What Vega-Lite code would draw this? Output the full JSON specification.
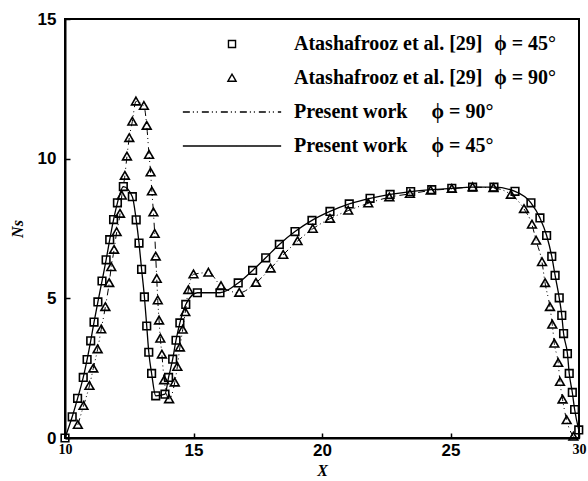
{
  "$schema": "https://vega.github.io/schema/vega-lite/v6.json",
  "width": 514,
  "height": 419,
  "autosize": {"type": "none"},
  "padding": {"left": 65, "top": 19, "right": 9, "bottom": 43},
  "background": "white",
  "config": {
    "view": {"stroke": "black", "strokeWidth": 2},
    "axis": {
      "grid": false,
      "domainColor": "black",
      "domainWidth": 2,
      "tickColor": "black",
      "tickWidth": 1.5,
      "tickSize": -5,
      "labelColor": "black",
      "labelFontWeight": "bold",
      "titleColor": "black",
      "titleFont": "Liberation Serif",
      "titleFontStyle": "italic",
      "titleFontWeight": "bold",
      "titleFontSize": 16
    },
    "legend": {
      "symbolStrokeColor": "black",
      "symbolStrokeWidth": 1.4,
      "labelFont": "Liberation Serif",
      "labelFontSize": 20,
      "labelFontWeight": "bold",
      "labelColor": "black",
      "labelLimit": 500,
      "padding": 0
    }
  },
  "data": {
    "values": [
      {"series": "a45", "x": 10.0, "y": 0.0},
      {"series": "a45", "x": 10.28, "y": 0.76},
      {"series": "a45", "x": 10.49, "y": 1.42},
      {"series": "a45", "x": 10.71, "y": 2.17},
      {"series": "a45", "x": 10.86, "y": 2.81},
      {"series": "a45", "x": 11.0, "y": 3.48},
      {"series": "a45", "x": 11.13, "y": 4.15},
      {"series": "a45", "x": 11.28, "y": 4.87},
      {"series": "a45", "x": 11.44, "y": 5.62},
      {"series": "a45", "x": 11.6, "y": 6.38},
      {"series": "a45", "x": 11.74, "y": 7.1},
      {"series": "a45", "x": 11.89, "y": 7.82},
      {"series": "a45", "x": 12.04, "y": 8.42},
      {"series": "a45", "x": 12.27, "y": 9.0},
      {"series": "a45", "x": 12.62, "y": 8.64},
      {"series": "a45", "x": 12.77, "y": 7.81},
      {"series": "a45", "x": 12.88, "y": 6.98},
      {"series": "a45", "x": 12.98, "y": 6.04},
      {"series": "a45", "x": 13.09, "y": 5.05},
      {"series": "a45", "x": 13.18, "y": 4.01},
      {"series": "a45", "x": 13.26, "y": 3.07},
      {"series": "a45", "x": 13.37, "y": 2.31},
      {"series": "a45", "x": 13.53, "y": 1.51},
      {"series": "a45", "x": 13.89, "y": 1.57},
      {"series": "a45", "x": 14.03, "y": 2.17},
      {"series": "a45", "x": 14.19, "y": 2.82},
      {"series": "a45", "x": 14.32, "y": 3.5},
      {"series": "a45", "x": 14.47, "y": 4.12},
      {"series": "a45", "x": 14.7, "y": 4.78},
      {"series": "a45", "x": 15.15, "y": 5.2},
      {"series": "a45", "x": 16.03, "y": 5.2},
      {"series": "a45", "x": 16.74, "y": 5.55},
      {"series": "a45", "x": 17.3, "y": 6.0},
      {"series": "a45", "x": 17.81, "y": 6.45},
      {"series": "a45", "x": 18.34, "y": 6.93},
      {"series": "a45", "x": 18.95, "y": 7.39},
      {"series": "a45", "x": 19.61, "y": 7.79},
      {"series": "a45", "x": 20.31, "y": 8.11},
      {"series": "a45", "x": 21.06, "y": 8.38},
      {"series": "a45", "x": 21.87, "y": 8.58},
      {"series": "a45", "x": 22.65, "y": 8.72},
      {"series": "a45", "x": 23.45, "y": 8.82},
      {"series": "a45", "x": 24.27, "y": 8.89},
      {"series": "a45", "x": 25.05, "y": 8.94},
      {"series": "a45", "x": 25.86, "y": 8.98},
      {"series": "a45", "x": 26.69, "y": 8.98},
      {"series": "a45", "x": 27.51, "y": 8.83},
      {"series": "a45", "x": 28.13, "y": 8.42},
      {"series": "a45", "x": 28.48, "y": 7.88},
      {"series": "a45", "x": 28.74, "y": 7.25},
      {"series": "a45", "x": 28.94, "y": 6.5},
      {"series": "a45", "x": 29.07, "y": 5.82},
      {"series": "a45", "x": 29.23, "y": 5.02},
      {"series": "a45", "x": 29.33, "y": 4.39},
      {"series": "a45", "x": 29.4, "y": 3.74},
      {"series": "a45", "x": 29.55, "y": 3.02},
      {"series": "a45", "x": 29.62, "y": 2.31},
      {"series": "a45", "x": 29.74, "y": 1.63},
      {"series": "a45", "x": 29.83, "y": 1.02},
      {"series": "a45", "x": 29.99, "y": 0.29},
      {"series": "a90", "x": 10.5, "y": 0.47},
      {"series": "a90", "x": 10.72, "y": 1.15},
      {"series": "a90", "x": 10.95, "y": 1.87},
      {"series": "a90", "x": 11.1, "y": 2.49},
      {"series": "a90", "x": 11.27, "y": 3.18},
      {"series": "a90", "x": 11.41, "y": 3.89},
      {"series": "a90", "x": 11.57, "y": 4.69},
      {"series": "a90", "x": 11.72, "y": 5.55},
      {"series": "a90", "x": 11.8, "y": 6.12},
      {"series": "a90", "x": 11.91, "y": 6.74},
      {"series": "a90", "x": 12.01, "y": 7.37},
      {"series": "a90", "x": 12.14, "y": 8.03},
      {"series": "a90", "x": 12.21, "y": 8.68},
      {"series": "a90", "x": 12.33, "y": 9.39},
      {"series": "a90", "x": 12.41, "y": 10.08},
      {"series": "a90", "x": 12.5, "y": 10.74},
      {"series": "a90", "x": 12.62, "y": 11.33},
      {"series": "a90", "x": 12.76, "y": 12.05},
      {"series": "a90", "x": 13.07, "y": 11.89},
      {"series": "a90", "x": 13.18, "y": 11.18},
      {"series": "a90", "x": 13.27, "y": 10.14},
      {"series": "a90", "x": 13.33, "y": 9.51},
      {"series": "a90", "x": 13.38, "y": 8.83},
      {"series": "a90", "x": 13.44, "y": 8.08},
      {"series": "a90", "x": 13.49, "y": 7.31},
      {"series": "a90", "x": 13.53, "y": 6.5},
      {"series": "a90", "x": 13.57, "y": 5.7},
      {"series": "a90", "x": 13.61, "y": 4.93},
      {"series": "a90", "x": 13.66, "y": 4.21},
      {"series": "a90", "x": 13.71, "y": 3.56},
      {"series": "a90", "x": 13.77, "y": 2.99},
      {"series": "a90", "x": 13.86, "y": 2.07},
      {"series": "a90", "x": 14.05, "y": 1.39},
      {"series": "a90", "x": 14.27, "y": 1.99},
      {"series": "a90", "x": 14.37, "y": 2.55},
      {"series": "a90", "x": 14.47, "y": 3.24},
      {"series": "a90", "x": 14.58, "y": 3.88},
      {"series": "a90", "x": 14.68, "y": 4.51},
      {"series": "a90", "x": 14.8, "y": 5.3},
      {"series": "a90", "x": 15.0, "y": 5.86},
      {"series": "a90", "x": 15.58, "y": 5.92},
      {"series": "a90", "x": 16.07, "y": 5.44},
      {"series": "a90", "x": 16.78, "y": 5.2},
      {"series": "a90", "x": 17.43, "y": 5.56},
      {"series": "a90", "x": 18.0, "y": 6.07},
      {"series": "a90", "x": 18.49, "y": 6.56},
      {"series": "a90", "x": 19.05, "y": 7.05},
      {"series": "a90", "x": 19.64, "y": 7.49},
      {"series": "a90", "x": 20.31, "y": 7.85},
      {"series": "a90", "x": 21.02, "y": 8.14},
      {"series": "a90", "x": 21.8, "y": 8.4},
      {"series": "a90", "x": 22.62, "y": 8.62},
      {"series": "a90", "x": 23.42, "y": 8.74},
      {"series": "a90", "x": 24.23, "y": 8.86},
      {"series": "a90", "x": 25.05, "y": 8.92},
      {"series": "a90", "x": 25.86, "y": 8.98},
      {"series": "a90", "x": 26.67, "y": 8.95},
      {"series": "a90", "x": 27.35, "y": 8.71},
      {"series": "a90", "x": 27.86, "y": 8.2},
      {"series": "a90", "x": 28.17, "y": 7.64},
      {"series": "a90", "x": 28.33, "y": 7.07},
      {"series": "a90", "x": 28.56, "y": 6.3},
      {"series": "a90", "x": 28.68, "y": 5.55},
      {"series": "a90", "x": 28.87, "y": 4.69},
      {"series": "a90", "x": 28.96, "y": 4.06},
      {"series": "a90", "x": 29.04, "y": 3.38},
      {"series": "a90", "x": 29.19, "y": 2.69},
      {"series": "a90", "x": 29.26, "y": 2.01},
      {"series": "a90", "x": 29.36, "y": 1.38},
      {"series": "a90", "x": 29.52, "y": 0.64},
      {"series": "a90", "x": 29.78, "y": 0.05}
    ]
  },
  "encoding": {
    "x": {
      "field": "x",
      "type": "quantitative",
      "title": "X",
      "scale": {"domain": [10, 30], "nice": false, "zero": false},
      "axis": {
        "values": [10, 15, 20, 25, 30],
        "labelFont": {"condition": {"test": "datum.value == 10 || datum.value == 30", "value": "Liberation Serif"}, "value": "Liberation Sans"},
        "labelFontSize": {"condition": {"test": "datum.value == 10 || datum.value == 30", "value": 14}, "value": 17},
        "labelFlush": false,
        "labelOverlap": false,
        "labelPadding": 9,
        "titlePadding": 4
      }
    },
    "y": {
      "field": "y",
      "type": "quantitative",
      "title": "Ns",
      "scale": {"domain": [0, 15], "nice": false},
      "axis": {
        "values": [0, 5, 10, 15],
        "labelFont": "Liberation Sans",
        "labelFontSize": 17,
        "labelPadding": 14,
        "titlePadding": 12
      }
    }
  },
  "layer": [
    {
      "transform": [{"filter": "datum.series == 'a45'"}],
      "mark": {"type": "line", "color": "black", "strokeWidth": 1.3, "interpolate": "monotone"}
    },
    {
      "transform": [{"filter": "datum.series == 'a90'"}],
      "mark": {"type": "line", "color": "black", "strokeWidth": 1, "interpolate": "monotone", "strokeDash": [7, 3, 1, 3, 1, 4]}
    },
    {
      "mark": {"type": "point", "filled": false, "color": "black", "strokeWidth": 1.6, "size": 58, "opacity": 1},
      "encoding": {
        "shape": {
          "field": "series",
          "type": "nominal",
          "scale": {
            "domain": ["a45", "a90", "p90", "p45"],
            "range": ["square", "M0,-1.1L1.15,0.9L-1.15,0.9Z", "M-13.9,0H13.9", "M-13.9,0H13.9"]
          },
          "legend": {
            "title": null,
            "orient": "none",
            "legendX": 157,
            "legendY": 15,
            "rowPadding": 14,
            "labelOffset": 52,
            "symbolSize": 50,
            "labelExpr": "datum.value == 'a45' ? 'Atashafrooz et al. [29]\u2002\u200aϕ = 45°' : datum.value == 'a90' ? 'Atashafrooz et al. [29]\u2002\u200aϕ = 90°' : datum.value == 'p90' ? 'Present work\u2003\u2009ϕ = 90°' : 'Present work\u2003\u2009ϕ = 45°'"
          }
        },
        "strokeDash": {
          "field": "series",
          "type": "nominal",
          "scale": {
            "domain": ["a45", "a90", "p90", "p45"],
            "range": [[1, 0], [1, 0], [7, 3, 1, 3, 1, 4], [1, 0]]
          },
          "legend": {
            "title": null,
            "orient": "none",
            "legendX": 157,
            "legendY": 15,
            "rowPadding": 14,
            "labelOffset": 52,
            "symbolSize": 50,
            "labelExpr": "datum.value == 'a45' ? 'Atashafrooz et al. [29]\u2002\u200aϕ = 45°' : datum.value == 'a90' ? 'Atashafrooz et al. [29]\u2002\u200aϕ = 90°' : datum.value == 'p90' ? 'Present work\u2003\u2009ϕ = 90°' : 'Present work\u2003\u2009ϕ = 45°'"
          }
        }
      }
    }
  ]
}
